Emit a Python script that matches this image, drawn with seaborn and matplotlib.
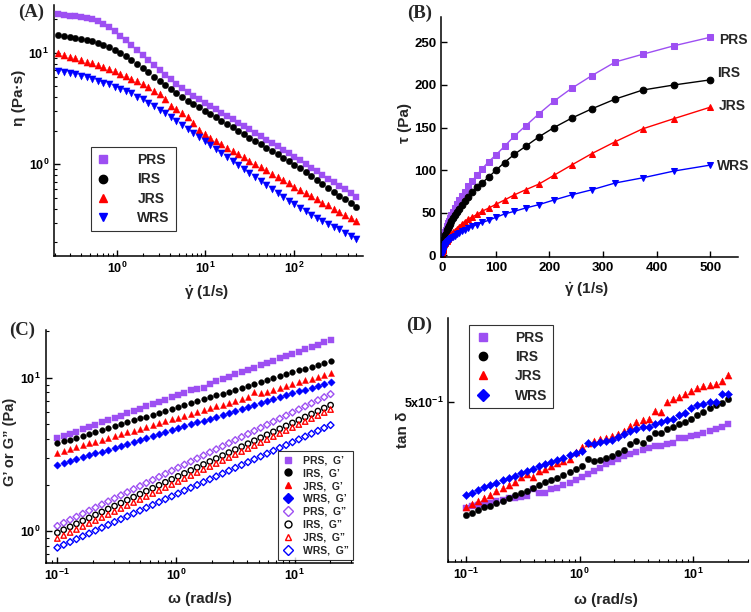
import numpy as np
import pandas as pd
import matplotlib
matplotlib.use('Agg')
import matplotlib.pyplot as plt
import seaborn as sns
from matplotlib.ticker import FuncFormatter, FixedLocator, NullLocator, NullFormatter
from matplotlib.lines import Line2D

# ---------------- data ----------------
samples = ['PRS', 'IRS', 'JRS', 'WRS']
colors = {'PRS': '#9D4FF2', 'IRS': '#000000', 'JRS': '#FF0000', 'WRS': '#0000FF'}

shear_rate = [0.220, 0.2545, 0.2945, 0.3408, 0.3943, 0.4562, 0.528, 0.6108, 0.7068, 0.8178,
              0.9461, 1.095, 1.266, 1.465, 1.695, 1.962, 2.270, 2.626, 3.039, 3.516,
              4.068, 4.707, 5.446, 6.301, 7.291, 8.436, 9.755, 11.29, 13.06, 15.11,
              17.48, 20.23, 23.40, 27.08, 31.33, 36.25, 41.94, 48.53, 56.15, 64.97,
              75.16, 86.97, 100.6, 116.4, 134.7, 155.8, 180.3, 208.6, 241.4, 279.3,
              323.1, 373.9, 432.5, 500.4]

eta_PRS = [22.20, 21.75, 21.45, 21.16, 20.88, 20.45, 19.90, 19.09, 18.07, 16.87,
           15.54, 14.21, 12.91, 11.64, 10.51, 9.476, 8.548, 7.711, 7.004, 6.362,
           5.778, 5.285, 4.867, 4.421, 4.098, 3.827, 3.572, 3.335, 3.114, 2.907,
           2.714, 2.534, 2.365, 2.208, 2.061, 1.912, 1.785, 1.667, 1.556, 1.452,
           1.356, 1.266, 1.174, 1.088, 1.009, 0.936, 0.868, 0.805, 0.746, 0.692,
           0.645, 0.602, 0.558, 0.515]
eta_IRS = [14.51, 14.21, 13.92, 13.64, 13.36, 13.00, 12.65, 12.21, 11.72, 11.17,
           10.58, 9.943, 9.283, 8.607, 7.926, 7.299, 6.675, 6.105, 5.584, 5.106,
           4.702, 4.330, 4.015, 3.722, 3.476, 3.245, 3.029, 2.828, 2.640, 2.465,
           2.301, 2.148, 2.006, 1.860, 1.737, 1.621, 1.513, 1.414, 1.320, 1.231,
           1.150, 1.074, 0.995, 0.923, 0.850, 0.782, 0.726, 0.668, 0.619, 0.570,
           0.525, 0.488, 0.449, 0.413]
eta_JRS = [9.875, 9.541, 9.219, 8.907, 8.607, 8.316, 8.036, 7.711, 7.399, 7.101,
           6.814, 6.494, 6.189, 5.858, 5.546, 5.212, 4.900, 4.574, 4.242, 3.880,
           3.335, 3.114, 2.867, 2.640, 2.333, 2.034, 1.860, 1.737, 1.621, 1.513,
           1.414, 1.329, 1.240, 1.158, 1.081, 1.009, 0.948, 0.886, 0.827, 0.772,
           0.721, 0.677, 0.632, 0.590, 0.555, 0.519, 0.488, 0.455, 0.428, 0.402,
           0.378, 0.355, 0.334, 0.312]
eta_WRS = [6.908, 6.767, 6.629, 6.449, 6.232, 6.021, 5.818, 5.584, 5.395, 5.212,
           4.968, 4.735, 4.544, 4.330, 4.043, 3.827, 3.572, 3.335, 3.071, 2.867,
           2.677, 2.465, 2.270, 2.061, 1.925, 1.773, 1.632, 1.503, 1.385, 1.275,
           1.174, 1.081, 0.995, 0.916, 0.844, 0.777, 0.716, 0.659, 0.606, 0.558,
           0.515, 0.474, 0.437, 0.408, 0.380, 0.355, 0.334, 0.314, 0.295, 0.277,
           0.261, 0.245, 0.229, 0.214]

tau_PRS = [4.88, 5.54, 6.32, 7.21, 8.23, 9.33, 10.51, 11.66, 12.77, 13.80,
           14.70, 15.56, 16.34, 17.05, 17.81, 18.59, 19.40, 20.25, 21.29, 22.37,
           23.50, 24.88, 26.51, 27.86, 29.88, 32.28, 34.84, 37.65, 40.67, 43.92,
           47.44, 51.26, 55.34, 59.79, 64.57, 69.31, 74.86, 80.90, 87.37, 94.34,
           101.9, 110.1, 118.0, 128.0, 140.0, 152.0, 166.0, 181.0, 196.0, 211.0,
           227.0, 236.0, 246.0, 256.0]
tau_IRS = [3.19, 3.62, 4.10, 4.65, 5.27, 5.93, 6.68, 7.46, 8.28, 9.13,
           10.01, 10.89, 11.75, 12.61, 13.43, 14.32, 15.15, 16.03, 16.97, 17.95,
           19.13, 20.38, 21.87, 23.45, 25.34, 27.37, 29.55, 31.93, 34.48, 37.25,
           40.22, 43.45, 46.94, 50.37, 54.42, 58.76, 63.46, 68.62, 74.12, 79.98,
           85.40, 92.00, 100.0, 109.0, 118.6, 128.0, 139.0, 150.0, 161.0, 172.0,
           183.5, 194.0, 200.0, 206.0]
tau_JRS = [2.17, 2.43, 2.72, 3.04, 3.39, 3.79, 4.24, 4.71, 5.23, 5.81,
           6.45, 7.11, 7.84, 8.58, 9.40, 10.23, 11.12, 12.01, 12.89, 13.64,
           13.57, 14.66, 15.61, 16.63, 17.01, 17.16, 18.14, 19.61, 21.17, 22.86,
           24.72, 26.89, 29.02, 31.36, 33.87, 36.58, 39.76, 42.50, 45.00, 48.00,
           52.00, 55.50, 60.00, 65.00, 71.00, 77.00, 83.60, 94.00, 106.0, 119.5,
           133.5, 148.5, 160.5, 174.0]
tau_WRS = [1.52, 1.72, 1.95, 2.20, 2.46, 2.75, 3.07, 3.41, 3.81, 4.26,
           4.70, 5.18, 5.75, 6.34, 6.85, 7.51, 8.11, 8.76, 9.33, 10.08,
           10.89, 11.60, 12.36, 12.99, 14.04, 14.96, 15.92, 16.97, 18.09, 19.27,
           20.52, 21.87, 23.28, 24.81, 26.44, 28.17, 30.03, 31.98, 34.03, 36.25,
           38.71, 41.20, 44.70, 48.60, 51.70, 55.60, 59.50, 65.00, 71.00, 77.00,
           85.00, 91.00, 99.00, 106.0]

omega = [0.100, 0.1131, 0.1280, 0.1448, 0.1637, 0.1852, 0.2095, 0.2370, 0.2681, 0.3033,
         0.3431, 0.3881, 0.4390, 0.4966, 0.5618, 0.6355, 0.7189, 0.8132, 0.9199, 1.041,
         1.177, 1.332, 1.506, 1.704, 1.928, 2.180, 2.467, 2.790, 3.156, 3.570,
         4.039, 4.569, 5.168, 5.846, 6.613, 7.481, 8.463, 9.573, 10.83, 12.25,
         13.86, 15.68, 17.73, 20.06]

Gp_PRS = [4.005, 4.145, 4.290, 4.440, 4.595, 4.755, 4.921, 5.093, 5.271, 5.455,
          5.646, 5.843, 6.047, 6.259, 6.477, 6.704, 6.938, 7.180, 7.431, 7.691,
          7.960, 8.238, 8.450, 8.560, 9.133, 9.452, 9.782, 10.12, 10.48, 10.84,
          11.22, 11.61, 12.02, 12.44, 12.88, 13.33, 13.79, 14.27, 14.77, 15.29,
          15.82, 16.38, 16.95, 17.54]
Gp_IRS = [3.715, 3.824, 3.936, 4.051, 4.169, 4.291, 4.417, 4.546, 4.679, 4.816,
          4.957, 5.102, 5.251, 5.405, 5.563, 5.726, 5.894, 6.066, 6.244, 6.426,
          6.614, 6.808, 7.007, 7.212, 7.423, 7.641, 7.864, 8.094, 8.331, 8.575,
          8.826, 9.084, 9.350, 9.624, 9.905, 10.19, 10.49, 10.80, 11.12, 11.44,
          11.78, 12.12, 12.48, 12.84]
Gp_JRS = [3.228, 3.319, 3.413, 3.510, 3.609, 3.711, 3.816, 3.924, 4.035, 4.149,
          4.266, 4.387, 4.511, 4.638, 4.769, 4.904, 5.043, 5.185, 5.332, 5.483,
          5.638, 5.797, 5.961, 6.129, 6.302, 6.480, 6.664, 6.852, 7.046, 7.245,
          7.450, 8.050, 7.877, 8.099, 8.328, 8.564, 8.806, 9.055, 9.311, 9.574,
          9.844, 10.12, 10.41, 10.70]
Gp_WRS = [2.683, 2.762, 2.844, 2.928, 3.014, 3.103, 3.195, 3.289, 3.386, 3.486,
          3.589, 3.695, 3.804, 3.917, 4.033, 4.152, 4.274, 4.401, 4.531, 4.664,
          4.802, 4.944, 5.090, 5.240, 5.395, 5.555, 5.719, 5.888, 6.061, 6.240,
          6.425, 6.614, 6.810, 7.011, 7.218, 7.431, 7.651, 7.877, 8.110, 8.349,
          8.596, 8.850, 9.111, 9.380]
Gpp_PRS = [1.074, 1.125, 1.178, 1.233, 1.291, 1.352, 1.416, 1.483, 1.553, 1.626,
           1.703, 1.783, 1.867, 1.955, 2.047, 2.144, 2.245, 2.351, 2.462, 2.578,
           2.700, 2.827, 2.961, 3.100, 3.247, 3.400, 3.560, 3.728, 3.904, 4.089,
           4.281, 4.483, 4.695, 4.917, 5.149, 5.391, 5.646, 5.912, 6.191, 6.483,
           6.789, 7.109, 7.445, 7.796]
Gpp_IRS = [0.970, 1.014, 1.060, 1.109, 1.160, 1.212, 1.268, 1.326, 1.386, 1.449,
           1.515, 1.585, 1.657, 1.733, 1.812, 1.894, 1.981, 2.071, 2.166, 2.264,
           2.368, 2.476, 2.589, 2.707, 2.830, 2.959, 3.094, 3.236, 3.383, 3.538,
           3.699, 3.868, 4.044, 4.229, 4.422, 4.624, 4.834, 5.055, 5.285, 5.527,
           5.779, 6.042, 6.318, 6.606]
Gpp_JRS = [0.890, 0.931, 0.974, 1.019, 1.066, 1.115, 1.166, 1.220, 1.276, 1.335,
           1.397, 1.461, 1.529, 1.599, 1.673, 1.750, 1.831, 1.915, 2.003, 2.096,
           2.192, 2.293, 2.399, 2.510, 2.625, 2.746, 2.873, 3.005, 3.144, 3.289,
           3.440, 3.599, 3.765, 3.938, 4.120, 4.310, 4.509, 4.716, 4.934, 5.161,
           5.399, 5.648, 5.909, 6.181]
Gpp_WRS = [0.775, 0.809, 0.844, 0.881, 0.920, 0.960, 1.002, 1.046, 1.092, 1.140,
           1.190, 1.242, 1.296, 1.353, 1.412, 1.474, 1.538, 1.606, 1.676, 1.749,
           1.826, 1.906, 1.989, 2.076, 2.167, 2.262, 2.361, 2.464, 2.572, 2.685,
           2.802, 2.925, 3.053, 3.186, 3.326, 3.471, 3.623, 3.782, 3.947, 4.120,
           4.300, 4.488, 4.685, 4.890]

tand_PRS = [0.268, 0.270, 0.272, 0.274, 0.276, 0.278, 0.280, 0.283, 0.284, 0.286,
            0.287, 0.299, 0.292, 0.292, 0.300, 0.301, 0.306, 0.310, 0.315, 0.321,
            0.327, 0.333, 0.339, 0.346, 0.351, 0.357, 0.364, 0.367, 0.372, 0.377,
            0.380, 0.385, 0.385, 0.391, 0.393, 0.403, 0.404, 0.408, 0.412, 0.417,
            0.421, 0.426, 0.431, 0.438]
tand_IRS = [0.256, 0.260, 0.265, 0.269, 0.271, 0.275, 0.279, 0.283, 0.288, 0.292,
            0.296, 0.301, 0.306, 0.311, 0.316, 0.320, 0.325, 0.331, 0.337, 0.343,
            0.357, 0.353, 0.356, 0.359, 0.363, 0.369, 0.377, 0.390, 0.396, 0.392,
            0.403, 0.415, 0.417, 0.427, 0.430, 0.438, 0.445, 0.452, 0.462, 0.472,
            0.481, 0.490, 0.496, 0.507]
tand_JRS = [0.269, 0.274, 0.278, 0.284, 0.289, 0.295, 0.301, 0.306, 0.312, 0.321,
            0.326, 0.321, 0.333, 0.337, 0.343, 0.348, 0.352, 0.357, 0.372, 0.384,
            0.392, 0.397, 0.401, 0.404, 0.408, 0.414, 0.421, 0.434, 0.443, 0.449,
            0.453, 0.475, 0.471, 0.501, 0.508, 0.515, 0.523, 0.532, 0.541, 0.550,
            0.553, 0.556, 0.564, 0.586]
tand_WRS = [0.288, 0.292, 0.297, 0.302, 0.306, 0.310, 0.316, 0.320, 0.324, 0.329,
            0.333, 0.337, 0.342, 0.347, 0.351, 0.356, 0.360, 0.365, 0.369, 0.374,
            0.393, 0.391, 0.395, 0.397, 0.400, 0.407, 0.414, 0.421, 0.425, 0.430,
            0.432, 0.438, 0.444, 0.449, 0.453, 0.462, 0.467, 0.483, 0.490, 0.495,
            0.500, 0.501, 0.523, 0.525]

eta = {'PRS': eta_PRS, 'IRS': eta_IRS, 'JRS': eta_JRS, 'WRS': eta_WRS}
tau = {'PRS': tau_PRS, 'IRS': tau_IRS, 'JRS': tau_JRS, 'WRS': tau_WRS}
Gp = {'PRS': Gp_PRS, 'IRS': Gp_IRS, 'JRS': Gp_JRS, 'WRS': Gp_WRS}
Gpp = {'PRS': Gpp_PRS, 'IRS': Gpp_IRS, 'JRS': Gpp_JRS, 'WRS': Gpp_WRS}
tand = {'PRS': tand_PRS, 'IRS': tand_IRS, 'JRS': tand_JRS, 'WRS': tand_WRS}

# ---------------- style ----------------
sns.set_style('ticks')
plt.rcParams.update({
    'font.family': ['Liberation Sans', 'DejaVu Sans'],
    'font.weight': 'bold',
    'axes.labelweight': 'bold',
    'mathtext.fontset': 'custom',
    'mathtext.rm': 'Liberation Sans:bold',
    'mathtext.bf': 'Liberation Sans:bold',
    'mathtext.it': 'Liberation Sans:bold:italic',
    'mathtext.sf': 'Liberation Sans:bold',
    'axes.linewidth': 1.1,
    'axes.edgecolor': 'black',
    'xtick.direction': 'in', 'ytick.direction': 'in',
    'xtick.major.size': 4, 'ytick.major.size': 4,
    'xtick.minor.size': 2.2, 'ytick.minor.size': 2.2,
    'xtick.major.width': 1.0, 'ytick.major.width': 1.0,
    'xtick.minor.width': 0.8, 'ytick.minor.width': 0.8,
    'xtick.color': 'black', 'ytick.color': 'black',
    'legend.frameon': True,
})

markers_AB = {'PRS': 's', 'IRS': 'o', 'JRS': '^', 'WRS': 'v'}
markers_CD = {'PRS': 's', 'IRS': 'o', 'JRS': '^', 'WRS': 'D'}
open_markers_C = {'PRS': 'D', 'IRS': 'o', 'JRS': '^', 'WRS': 'D'}


def pow10(v, pos):
    e = int(round(np.log10(v)))
    return r'$\mathbf{10^{%d}}$' % e


def pts(ax, x, y, marker, color, s, hollow=False, lw=1.0):
    if hollow:
        sns.scatterplot(x=x, y=y, marker=marker, s=s, facecolor='none',
                        edgecolor=color, linewidth=lw, ax=ax, legend=False, zorder=3)
    else:
        sns.scatterplot(x=x, y=y, marker=marker, s=s, color=color,
                        edgecolor=color, linewidth=0.3, ax=ax, legend=False, zorder=3)


def style_axes(ax):
    for sp in ['top', 'right']:
        ax.spines[sp].set_visible(False)
    ax.set_xlabel('')
    ax.set_ylabel('')


fig = plt.figure(figsize=(7.51, 6.12), dpi=100)

axA = fig.add_axes([0.0719, 0.5817, 0.4115, 0.410])
axB = fig.add_axes([0.5872, 0.5806, 0.3950, 0.392])
axC = fig.add_axes([0.0609, 0.0796, 0.4096, 0.381])
axD = fig.add_axes([0.5969, 0.0822, 0.3995, 0.3977])

# ---------------- (A) ----------------
axA.set_xscale('log')
axA.set_yscale('log')
for name in samples:
    size = 26 if markers_AB[name] in ('^', 'v') else 21
    pts(axA, shear_rate, eta[name], markers_AB[name], colors[name], size)
axA.set_xlim(0.196, 598)
axA.set_ylim(0.151, 26.7)
style_axes(axA)
axA.xaxis.set_major_formatter(FuncFormatter(pow10))
axA.yaxis.set_major_formatter(FuncFormatter(pow10))
axA.xaxis.set_minor_formatter(NullFormatter())
axA.yaxis.set_minor_formatter(NullFormatter())
axA.tick_params(labelsize=9)
axA.set_ylabel('η (Pa·s)', fontsize=11, fontweight='bold')
axA.set_xlabel(r'$\mathbf{\dot{\gamma}}$ (1/s)', fontsize=11, fontweight='bold')
axA.yaxis.set_label_coords(-0.09, 0.63)
axA.xaxis.set_label_coords(0.495, -0.112)
hA = [Line2D([], [], marker=markers_AB[n], color=colors[n], linestyle='none', markersize=6)
      for n in samples]
legA = axA.legend(hA, samples, loc='upper left', bbox_to_anchor=(0.119, 0.435),
                  fontsize=10, frameon=True, fancybox=False, edgecolor='black',
                  borderpad=0.45, handlelength=0.8, handletextpad=2.1, labelspacing=0.38,
                  borderaxespad=0)
legA.get_frame().set_linewidth(0.8)

# ---------------- (B) ----------------
for name in samples:
    sns.lineplot(x=shear_rate, y=tau[name], color=colors[name], marker=markers_AB[name],
                 markersize=4.8, markeredgecolor=colors[name], linewidth=1.0,
                 ax=axB, legend=False, errorbar=None, sort=False)
axB.set_xlim(-2, 551)
axB.set_ylim(-1.5, 280)
axB.xaxis.set_major_locator(FixedLocator([0, 100, 200, 300, 400, 500]))
axB.yaxis.set_major_locator(FixedLocator([0, 50, 100, 150, 200, 250]))
style_axes(axB)
axB.tick_params(labelsize=9.5)
axB.set_ylabel('τ (Pa)', fontsize=11, fontweight='bold')
axB.set_xlabel(r'$\mathbf{\dot{\gamma}}$ (1/s)', fontsize=11, fontweight='bold')
axB.yaxis.set_label_coords(-0.098, 0.557)
axB.xaxis.set_label_coords(0.491, -0.1)
offsets = {'PRS': (6, -2), 'IRS': (5, 5), 'JRS': (6, 1), 'WRS': (5, -1)}
for name in samples:
    axB.annotate(name, xy=(shear_rate[-1], tau[name][-1]), xytext=offsets[name],
                 textcoords='offset points', ha='left', va='center',
                 fontsize=10, fontweight='bold', annotation_clip=False)

# ---------------- (C) ----------------
axC.set_xscale('log')
axC.set_yscale('log')
for name in samples:
    size = 19 if markers_CD[name] == '^' else (14 if markers_CD[name] == 'D' else 17)
    pts(axC, omega, Gp[name], markers_CD[name], colors[name], size)
for name in samples:
    m = open_markers_C[name]
    size = 12 if m == 'D' else 15
    pts(axC, omega, Gpp[name], m, colors[name], size, hollow=True, lw=1.0)
axC.set_xlim(0.0798, 31.2)
axC.set_ylim(0.613, 20.4)
style_axes(axC)
axC.xaxis.set_major_formatter(FuncFormatter(pow10))
axC.yaxis.set_major_formatter(FuncFormatter(pow10))
axC.xaxis.set_minor_formatter(NullFormatter())
axC.yaxis.set_minor_formatter(NullFormatter())
axC.tick_params(labelsize=9)
axC.set_ylabel('G’ or G” (Pa)', fontsize=10.5, fontweight='bold')
axC.set_xlabel('ω (rad/s)', fontsize=11, fontweight='bold')
axC.yaxis.set_label_coords(-0.095, 0.521)
axC.xaxis.set_label_coords(0.50, -0.125)
hC = [Line2D([], [], marker=markers_CD[n], color=colors[n], linestyle='none', markersize=5)
      for n in samples]
hC += [Line2D([], [], marker=open_markers_C[n], markerfacecolor='none',
              markeredgecolor=colors[n], markeredgewidth=1.0, linestyle='none',
              markersize=5) for n in samples]
labC = [f'{n},  G’' for n in samples] + [f'{n},  G”' for n in samples]
legC = axC.legend(hC, labC, loc='lower right', bbox_to_anchor=(1.0, 0.015),
                  fontsize=7.5, frameon=True, fancybox=False, edgecolor='black',
                  borderpad=0.4, handlelength=1.0, handletextpad=1.0, labelspacing=0.28,
                  borderaxespad=0)
legC.get_frame().set_linewidth(0.8)

# ---------------- (D) ----------------
axD.set_xscale('log')
axD.set_yscale('log')
for name in samples:
    size = 26 if markers_CD[name] == '^' else (17 if markers_CD[name] == 'D' else 21)
    pts(axD, omega, tand[name], markers_CD[name], colors[name], size)
axD.set_xlim(0.0698, 30.4)
axD.set_ylim(0.195, 0.818)
style_axes(axD)
axD.xaxis.set_major_formatter(FuncFormatter(pow10))
axD.xaxis.set_minor_formatter(NullFormatter())
axD.yaxis.set_major_locator(FixedLocator([0.5]))
axD.yaxis.set_major_formatter(FuncFormatter(lambda v, p: r'$\mathbf{5x10^{-1}}$'))
axD.yaxis.set_minor_locator(NullLocator())
axD.tick_params(labelsize=9)
axD.set_ylabel('tan δ', fontsize=11, fontweight='bold')
axD.set_xlabel('ω (rad/s)', fontsize=11, fontweight='bold')
axD.yaxis.set_label_coords(-0.128, 0.541)
axD.xaxis.set_label_coords(0.525, -0.128)
hD = [Line2D([], [], marker=markers_CD[n], color=colors[n], linestyle='none', markersize=6)
      for n in samples]
legD = axD.legend(hD, samples, loc='upper left', bbox_to_anchor=(0.07, 0.972),
                  fontsize=10, frameon=True, fancybox=False, edgecolor='black',
                  borderpad=0.4, handlelength=1.2, handletextpad=1.7, labelspacing=0.38,
                  borderaxespad=0)
legD.get_frame().set_linewidth(0.8)

# ---------------- panel letters ----------------
for lab, (px, py) in {'(A)': (31, 12), '(B)': (420, 13), '(C)': (22, 330), '(D)': (419, 325)}.items():
    fig.text(px / 751, 1 - py / 612, lab, family=['Liberation Serif', 'DejaVu Serif'],
             fontweight='bold', fontsize=13.5, ha='center', va='center')

fig.savefig('out.png', dpi=100)
